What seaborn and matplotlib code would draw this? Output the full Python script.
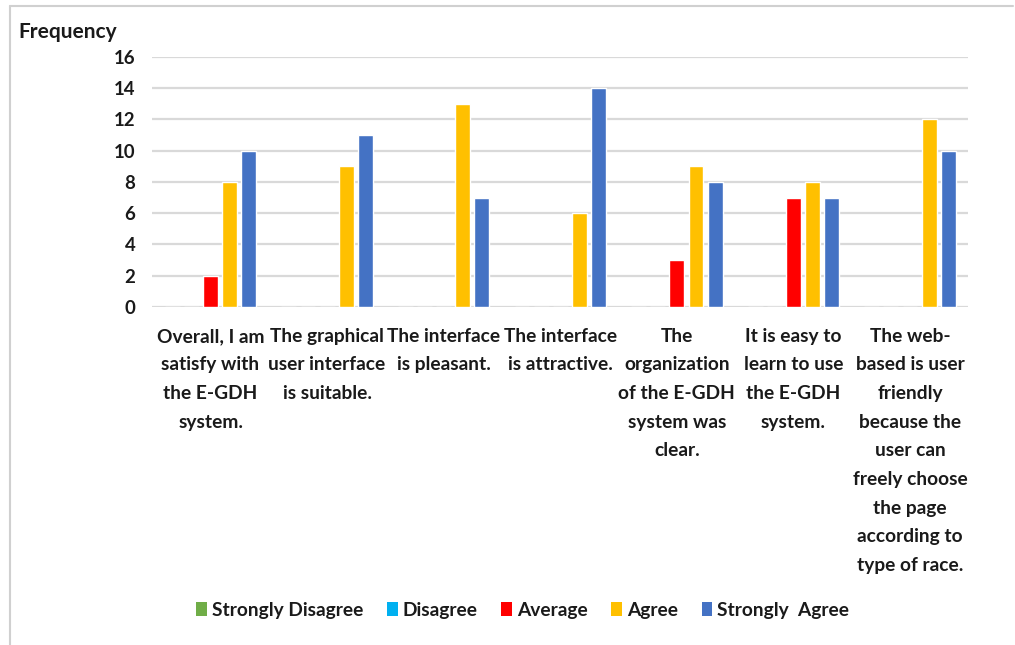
import matplotlib
matplotlib.use("Agg")
import matplotlib.pyplot as plt
from matplotlib.lines import Line2D
from matplotlib.patches import Patch
import seaborn as sns
import pandas as pd

# Survey statements (wrapped as shown on the axis)
statements = [
    "Overall, I am\nsatisfy with\nthe E-GDH\nsystem.",
    "The graphical\nuser interface\nis suitable.",
    "The interface\nis pleasant.",
    "The interface\nis attractive.",
    "The\norganization\nof the E-GDH\nsystem was\nclear.",
    "It is easy to\nlearn to use\nthe E-GDH\nsystem.",
    "The web-\nbased is user\nfriendly\nbecause the\nuser can\nfreely choose\nthe page\naccording to\ntype of race.",
]
responses = ["Strongly Disagree", "Disagree", "Average", "Agree", "Strongly  Agree"]

strongly_disagree = [0, 0, 0, 0, 0, 0, 0]
disagree = [0, 0, 0, 0, 0, 0, 0]
average = [2, 0, 0, 0, 3, 7, 0]
agree = [8, 9, 13, 6, 9, 8, 12]
strongly_agree = [10, 11, 7, 14, 8, 7, 10]

yticks = [0, 2, 4, 6, 8, 10, 12, 14, 16]

colors = ["#70AD47", "#00B0F0", "#FF0000", "#FFC000", "#4472C4"]

series = [strongly_disagree, disagree, average, agree, strongly_agree]
df = pd.DataFrame(
    [(s, r, v) for r, vals in zip(responses, series) for s, v in zip(statements, vals)],
    columns=["Statement", "Response", "Frequency"],
)

sns.set_theme(style="white")
plt.rcParams["font.family"] = ["Lato", "DejaVu Sans"]
plt.rcParams["font.weight"] = "bold"

fig = plt.figure(figsize=(10.15, 6.45), dpi=100)
ax = fig.add_axes([0.150, 0.524, 0.804, 0.388])

sns.barplot(
    data=df, x="Statement", y="Frequency", hue="Response",
    order=statements, hue_order=responses, palette=colors,
    width=0.82, gap=0.22, saturation=1, legend=False, ax=ax, errorbar=None,
)

ax.set_ylim(0, 16)
ax.set_xlim(-0.5, len(statements) - 0.5)
ax.set_yticks(yticks)
ax.yaxis.grid(True, color="#D9D9D9", linewidth=1.6)
ax.set_axisbelow(True)
for sp in ax.spines.values():
    sp.set_visible(False)
ax.set_xlabel("")
ax.set_ylabel("")
ax.tick_params(axis="y", length=0, pad=12, labelsize=13.4)
ax.tick_params(axis="x", length=0, pad=15, labelsize=13.8)
for lbl in ax.get_xticklabels():
    lbl.set_fontweight("bold")
    lbl.set_linespacing(1.83)
    lbl.set_color("#1A1A1A")
for lbl in ax.get_yticklabels():
    lbl.set_fontweight("bold")
    lbl.set_color("#1A1A1A")

fig.text(0.018, 0.950, "Frequency", fontsize=15, fontweight="bold",
         color="#1A1A1A", ha="left", va="center")

handles = [Patch(facecolor=c, edgecolor="none", label=r) for c, r in zip(colors, responses)]
fig.legend(handles=handles, loc="center", bbox_to_anchor=(0.515, 0.054), ncol=5,
           frameon=False, handlelength=0.55, handleheight=0.75,
           handletextpad=0.25, columnspacing=1.25,
           prop={"weight": "bold", "size": 13.8})
for t in fig.legends[0].get_texts():
    t.set_color("#1A1A1A")

# Light frame along the top and left edges of the figure
fig.add_artist(Line2D([0.010, 0.010], [0.0, 0.990], transform=fig.transFigure,
                      color="#D0D0D0", linewidth=1.5))
fig.add_artist(Line2D([0.010, 0.998], [0.990, 0.990], transform=fig.transFigure,
                      color="#D0D0D0", linewidth=1.5))

fig.savefig("out.png", dpi=100, facecolor="white")
